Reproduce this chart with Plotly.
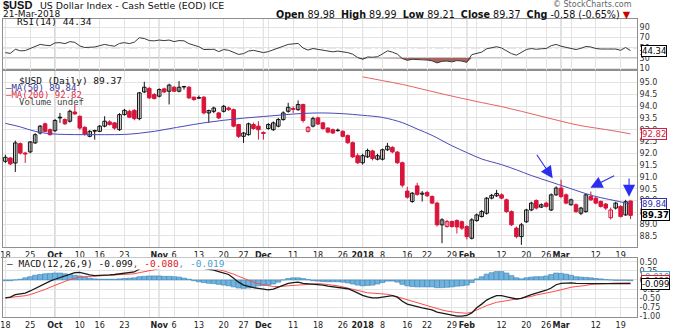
import numpy as np
import pandas as pd
import plotly.graph_objects as go

# ---------------- trading calendar ----------------
holidays = pd.to_datetime(["2017-10-09", "2017-11-23", "2017-12-25",
                           "2018-01-01", "2018-01-15", "2018-02-19"])
days = pd.bdate_range("2017-09-18", "2018-03-21")
days = days[~days.isin(holidays)]
idx = np.arange(len(days))


def pos(d):
    return int(days.get_loc(pd.Timestamp(d)))


# ---------------- daily OHLC ($USD) ----------------
opens = [91.66, 91.80, 91.59, 92.41, 92.01, 92.06, 92.44, 92.86, 93.25, 93.00,
         92.96, 93.53, 93.43, 93.36, 93.75, 93.57, 93.10, 92.72, 92.96, 92.93,
         93.15, 93.33, 93.29, 93.00, 93.64, 93.78, 93.82, 93.47, 94.60, 94.75,
         94.49, 94.42, 94.73, 94.63, 94.80, 94.63, 94.83, 94.80, 94.38, 94.36,
         94.38, 93.71, 93.78, 93.71, 93.78, 93.92, 93.85, 93.22, 92.72, 92.79,
         93.22, 93.15, 92.88, 93.05, 93.00, 93.15, 93.43, 93.78, 93.90, 93.85,
         94.07, 92.93, 93.15, 93.50, 93.29, 93.07, 93.00, 92.96, 92.93, 92.75,
         92.45, 91.90, 91.60, 91.85, 92.10, 91.75, 91.75, 92.15, 92.25, 92.05,
         91.60, 90.40, 89.96, 90.62, 90.27, 90.34, 90.17, 89.89, 88.97, 88.90,
         89.11, 89.15, 89.10, 88.90, 88.40, 89.15, 89.32, 89.46, 90.10, 90.20,
         90.24, 90.03, 89.53, 88.83, 88.47, 89.10, 89.60, 90.00, 89.72, 89.89,
         89.60, 90.24, 90.53, 90.24, 89.82, 89.82, 89.46, 89.53, 90.17, 90.10,
         89.96, 89.85, 89.27, 89.68, 89.75, 89.39, 89.98]
highs = [91.94, 91.84, 92.54, 92.46, 92.06, 92.52, 92.85, 93.20, 93.30, 93.05,
         93.45, 93.71, 93.48, 93.85, 94.07, 93.60, 93.15, 92.98, 93.00, 93.20,
         93.57, 93.40, 93.32, 93.70, 93.88, 93.85, 93.87, 94.60, 95.03, 94.82,
         94.55, 94.75, 94.78, 94.95, 94.85, 95.06, 94.86, 94.85, 94.40, 94.45,
         94.42, 93.85, 93.98, 93.75, 94.05, 93.98, 93.90, 93.25, 92.90, 93.30,
         93.30, 93.36, 92.93, 93.28, 93.35, 93.50, 93.78, 94.14, 93.99, 94.24,
         94.10, 93.15, 93.55, 93.55, 93.33, 93.10, 93.05, 93.05, 92.98, 92.80,
         92.50, 92.00, 91.98, 92.20, 92.15, 91.98, 92.20, 92.44, 92.30, 92.10,
         91.65, 90.58, 90.36, 90.75, 90.40, 90.40, 90.22, 89.95, 89.25, 89.18,
         89.15, 89.20, 89.15, 88.95, 89.25, 89.45, 89.60, 90.15, 90.28, 90.45,
         90.30, 90.08, 89.58, 88.90, 89.05, 89.65, 89.95, 90.05, 89.88, 89.95,
         90.30, 90.60, 90.88, 90.30, 90.08, 89.88, 89.73, 90.28, 90.38, 90.15,
         90.00, 89.90, 89.70, 89.95, 89.80, 90.03, 89.99]
lows = [91.59, 91.50, 91.21, 91.95, 91.59, 92.00, 92.40, 92.80, 92.90, 92.75,
        92.90, 93.29, 93.20, 93.30, 93.63, 93.00, 92.75, 92.68, 92.58, 92.90,
        93.10, 93.18, 93.00, 92.95, 93.60, 93.50, 93.40, 93.40, 94.55, 94.30,
        94.28, 94.37, 94.55, 94.07, 94.60, 94.58, 94.70, 94.30, 94.22, 94.30,
        93.65, 93.29, 93.70, 93.45, 93.73, 93.80, 93.10, 92.65, 92.44, 92.75,
        93.00, 92.58, 92.58, 93.00, 92.95, 93.10, 93.38, 93.72, 93.71, 93.80,
        93.30, 92.88, 93.10, 93.20, 93.00, 92.85, 92.82, 92.92, 92.68, 92.40,
        91.80, 91.55, 91.52, 91.80, 91.70, 91.70, 91.70, 92.10, 92.00, 91.55,
        90.55, 90.08, 89.90, 90.20, 89.96, 90.15, 89.85, 88.90, 88.19, 88.85,
        88.85, 88.60, 88.75, 88.35, 88.35, 89.10, 89.28, 89.40, 90.05, 90.15,
        90.05, 89.48, 88.92, 88.40, 88.12, 89.05, 89.55, 89.62, 89.68, 89.70,
        89.55, 90.20, 90.10, 89.84, 89.78, 89.48, 89.38, 89.48, 89.98, 89.84,
        89.70, 89.60, 89.20, 89.62, 89.28, 89.35, 89.21]
closes = [91.83, 91.55, 92.44, 92.01, 91.97, 92.48, 92.79, 93.15, 92.93, 92.79,
          93.39, 93.50, 93.25, 93.78, 93.67, 93.07, 92.82, 92.93, 92.94, 93.15,
          93.36, 93.22, 93.07, 93.64, 93.82, 93.53, 93.47, 94.56, 94.80, 94.35,
          94.32, 94.70, 94.60, 94.89, 94.63, 94.80, 94.81, 94.35, 94.28, 94.34,
          93.71, 93.81, 93.92, 93.50, 93.99, 93.85, 93.15, 92.72, 92.86, 93.25,
          93.05, 93.00, 92.84, 93.22, 93.29, 93.43, 93.71, 93.95, 93.86, 94.07,
          93.39, 93.10, 93.47, 93.24, 93.05, 92.90, 92.86, 92.98, 92.72, 92.45,
          91.85, 91.60, 91.90, 92.12, 91.78, 91.90, 92.15, 92.30, 92.06, 91.60,
          90.65, 90.14, 90.31, 90.26, 90.31, 90.20, 89.89, 88.97, 89.18, 89.11,
          88.90, 88.88, 88.83, 88.47, 89.18, 89.39, 89.53, 90.10, 90.22, 90.30,
          90.10, 89.53, 88.97, 88.47, 88.97, 89.60, 89.89, 89.68, 89.82, 89.75,
          90.24, 90.53, 90.17, 89.89, 90.03, 89.53, 89.68, 90.24, 90.03, 89.89,
          89.75, 89.68, 89.60, 89.89, 89.32, 89.95, 89.37]

# ---------------- moving averages ----------------
ma50_dates = ["2017-09-18", "2017-09-21", "2017-09-26", "2017-09-29", "2017-10-04",
              "2017-10-11", "2017-10-17", "2017-10-23", "2017-10-26", "2017-10-31",
              "2017-11-03", "2017-11-08", "2017-11-14", "2017-11-20", "2017-11-27",
              "2017-12-01", "2017-12-07", "2017-12-13", "2017-12-19", "2017-12-26",
              "2018-01-02", "2018-01-08", "2018-01-12", "2018-01-18", "2018-01-23",
              "2018-01-29", "2018-02-01", "2018-02-06", "2018-02-12", "2018-02-15",
              "2018-02-21", "2018-02-27", "2018-03-02", "2018-03-08", "2018-03-13",
              "2018-03-16", "2018-03-21"]
ma50_vals = [93.27, 93.12, 92.93, 92.83, 92.80, 92.79, 92.79, 92.80, 92.85, 92.93,
             93.04, 93.15, 93.29, 93.40, 93.49, 93.56, 93.63, 93.69, 93.71, 93.68,
             93.61, 93.52, 93.30, 93.03, 92.76, 92.32, 92.03, 91.76, 91.52, 91.30,
             91.06, 90.78, 90.57, 90.29, 90.12, 89.99, 89.84]
ma200_dates = ["2018-01-02", "2018-01-08", "2018-01-12", "2018-01-19", "2018-01-25",
               "2018-01-31", "2018-02-06", "2018-02-12", "2018-02-16", "2018-02-23",
               "2018-03-01", "2018-03-07", "2018-03-13", "2018-03-19", "2018-03-21"]
ma200_vals = [95.24, 95.08, 94.92, 94.72, 94.52, 94.33, 94.15, 93.98, 93.78, 93.57,
              93.36, 93.17, 93.04, 92.90, 92.82]

# ---------------- RSI(14) ----------------
rsi = [40.5, 39, 47, 44, 44.5, 48.5, 51.5, 56.5, 55, 54,
       59.5, 60, 58, 62, 60.5, 53.5, 50.5, 51.5, 51.5, 54,
       56.5, 54.5, 53, 58.5, 60, 58, 61, 69.5, 68, 64,
       63.5, 65, 64, 65, 62, 64, 63.5, 58, 55.5, 52,
       46.5, 46.5, 47, 42.5, 46.5, 45, 41.5, 37, 38.5, 43.5,
       45, 42, 40.5, 42.5, 46.5, 50, 53, 56.5, 57.5, 58.5,
       49.5, 45.5, 48.5, 47, 45, 43, 42, 43.5, 42.5, 40.5,
       37.5, 31, 27.5, 32, 31.5, 32.5, 38, 44, 41.5, 37.5,
       29, 25.5, 27.5, 27, 27.5, 26, 24.5, 20.5, 23.5, 24,
       22.5, 25, 24, 21.5, 36.5, 39.5, 41.5, 48, 49.5, 52,
       49.5, 44, 38.5, 35.5, 41.5, 46.5, 48.5, 47, 48, 48.5,
       54, 56.5, 53, 50.5, 49, 46.5, 49, 52.5, 51.5, 48.5,
       47.5, 47, 47.5, 47.5, 45, 50.5, 44.34]

# ---------------- MACD(12,26,9) ----------------
macd = [-0.49, -0.47, -0.40, -0.38, -0.36, -0.30, -0.23, -0.16, -0.09, -0.03,
        0.02, 0.07, 0.11, 0.17, 0.20, 0.21, 0.17, 0.14, 0.12, 0.12,
        0.14, 0.14, 0.15, 0.17, 0.20, 0.21, 0.22, 0.30, 0.38, 0.41,
        0.42, 0.44, 0.45, 0.46, 0.46, 0.47, 0.46, 0.44, 0.42, 0.39,
        0.32, 0.30, 0.27, 0.23, 0.20, 0.15, 0.05, -0.06, -0.14, -0.18,
        -0.21, -0.23, -0.26, -0.27, -0.25, -0.20, -0.14, -0.09, -0.07, -0.06,
        -0.09, -0.10, -0.10, -0.11, -0.14, -0.17, -0.19, -0.20, -0.21, -0.24,
        -0.29, -0.36, -0.42, -0.46, -0.49, -0.49, -0.47, -0.43, -0.43, -0.47,
        -0.58, -0.66, -0.70, -0.74, -0.76, -0.79, -0.82, -0.88, -0.91, -0.95,
        -0.97, -0.99, -0.99, -0.97, -0.90, -0.76, -0.66, -0.55, -0.48, -0.43,
        -0.43, -0.46, -0.49, -0.52, -0.50, -0.44, -0.40, -0.36, -0.33, -0.28,
        -0.22, -0.13, -0.095, -0.08, -0.08, -0.09, -0.095, -0.09, -0.09, -0.095,
        -0.095, -0.10, -0.10, -0.095, -0.10, -0.09, -0.099]
signal = [-0.49, -0.48, -0.47, -0.45, -0.43, -0.40, -0.36, -0.31, -0.26, -0.20,
          -0.14, -0.09, -0.04, 0.01, 0.05, 0.08, 0.09, 0.10, 0.11, 0.11,
          0.12, 0.12, 0.13, 0.14, 0.15, 0.16, 0.17, 0.20, 0.23, 0.26,
          0.29, 0.31, 0.33, 0.35, 0.37, 0.38, 0.39, 0.39, 0.39, 0.38,
          0.36, 0.34, 0.31, 0.28, 0.25, 0.21, 0.16, 0.10, 0.04, -0.01,
          -0.06, -0.10, -0.13, -0.16, -0.18, -0.18, -0.17, -0.15, -0.13, -0.12,
          -0.11, -0.11, -0.10, -0.10, -0.11, -0.12, -0.14, -0.16, -0.19, -0.22,
          -0.27, -0.30, -0.33, -0.35, -0.36, -0.37, -0.37, -0.39, -0.42, -0.46,
          -0.51, -0.56, -0.60, -0.64, -0.67, -0.71, -0.74, -0.79, -0.82, -0.85,
          -0.88, -0.89, -0.90, -0.91, -0.88, -0.83, -0.76, -0.70, -0.65, -0.61,
          -0.59, -0.57, -0.55, -0.53, -0.51, -0.48, -0.45, -0.41, -0.39, -0.36,
          -0.33, -0.30, -0.26, -0.23, -0.20, -0.18, -0.17, -0.15, -0.12, -0.11,
          -0.10, -0.095, -0.09, -0.085, -0.083, -0.08, -0.080]
hist = [-0.02, -0.02, 0.0, 0.02, 0.06, 0.09, 0.13, 0.15, 0.17, 0.18,
        0.19, 0.19, 0.17, 0.15, 0.13, 0.11, 0.08, 0.05, 0.03, 0.02,
        0.02, 0.02, 0.02, 0.03, 0.04, 0.05, 0.06, 0.09, 0.10, 0.11,
        0.11, 0.11, 0.10, 0.10, 0.09, 0.08, 0.05, 0.02, -0.02, -0.05,
        -0.07, -0.09, -0.10, -0.12, -0.14, -0.16, -0.19, -0.22, -0.23, -0.22,
        -0.20, -0.16, -0.15, -0.14, -0.11, -0.06, 0.00, 0.04, 0.06, 0.06,
        0.04, 0.01, -0.02, -0.03, -0.04, -0.05, -0.05, -0.05, -0.06, -0.08,
        -0.11, -0.14, -0.16, -0.15, -0.14, -0.11, -0.07, -0.03, -0.03, -0.06,
        -0.12, -0.16, -0.18, -0.19, -0.19, -0.19, -0.19, -0.21, -0.21, -0.20,
        -0.19, -0.17, -0.16, -0.14, -0.07, 0.03, 0.09, 0.16, 0.20, 0.23,
        0.23, 0.19, 0.12, 0.06, 0.03, 0.06, 0.08, 0.09, 0.09, 0.11,
        0.15, 0.19, 0.18, 0.16, 0.13, 0.09, 0.08, 0.07, 0.06, 0.04,
        0.03, 0.01, 0.00, -0.01, -0.01, -0.01, -0.019]

# ---------------- date axis labels ----------------
tick_dates = ["2017-09-18", "2017-09-25", "2017-10-02", "2017-10-10", "2017-10-16",
              "2017-10-23", "2017-11-01", "2017-11-06", "2017-11-13", "2017-11-20",
              "2017-11-27", "2017-12-01", "2017-12-11", "2017-12-18", "2017-12-26",
              "2018-01-02", "2018-01-08", "2018-01-16", "2018-01-22", "2018-01-29",
              "2018-02-01", "2018-02-12", "2018-02-20", "2018-02-26", "2018-03-01",
              "2018-03-12", "2018-03-19"]
tick_labels = ["18", "25", "<b>Oct</b>", "10", "16", "23", "<b>Nov</b>", "6", "13", "20",
               "27", "<b>Dec</b>", "11", "18", "26", "<b>2018</b>", "8", "16", "22", "29",
               "<b>Feb</b>", "12", "20", "26", "<b>Mar</b>", "12", "19"]

# annotation arrows: (tip position, tip price, tail position, tail price)
arrow_tips = [(110.3, 90.94, 106.9, 92.00),
              (117.9, 90.54, 123.0, 91.08),
              (125.7, 90.16, 125.7, 91.00)]

# ---------------- derived positions ----------------
tick_pos = [pos(d) for d in tick_dates]
week_starts = [i for i in idx if i == 0 or days[i].weekday() < days[i - 1].weekday()
               or (days[i] - days[i - 1]).days > 3]
month_starts = [i for i in idx[1:] if days[i].month != days[i - 1].month]

RED = "#d9143a"
BLACK = "#111111"
W, H = 674, 329
X0, X1 = 3 / W, 637 / W


def py(y):
    return 1 - y / H


colors, fills = [], []
for i in idx:
    up_day = i == 0 or closes[i] >= closes[i - 1]
    col = BLACK if up_day else RED
    colors.append(col)
    fills.append("white" if closes[i] > opens[i] else col)

fig = go.Figure()

# wicks
for col in (BLACK, RED):
    wx, wy = [], []
    for i in idx:
        if colors[i] == col:
            wx += [i, i, None]
            wy += [lows[i], highs[i], None]
    fig.add_trace(go.Scatter(x=wx, y=wy, mode="lines", line=dict(color=col, width=1),
                             xaxis="x", yaxis="y", hoverinfo="skip"))

# bodies
base = [min(o, c) for o, c in zip(opens, closes)]
height = [max(abs(c - o), 0.015) for o, c in zip(opens, closes)]
fig.add_trace(go.Bar(x=idx, y=height, base=base, width=0.72,
                     marker=dict(color=fills, line=dict(color=colors, width=1)),
                     xaxis="x", yaxis="y"))

fig.add_trace(go.Scatter(x=[pos(d) for d in ma50_dates], y=ma50_vals, mode="lines",
                         line=dict(color="#4a4ab8", width=1, shape="spline"),
                         xaxis="x", yaxis="y"))
fig.add_trace(go.Scatter(x=[pos(d) for d in ma200_dates], y=ma200_vals, mode="lines",
                         line=dict(color="#e46464", width=1, shape="spline"),
                         xaxis="x", yaxis="y"))

# RSI with oversold shading
fig.add_trace(go.Scatter(x=idx, y=[30] * len(idx), mode="lines",
                         line=dict(width=0, color="rgba(0,0,0,0)"),
                         xaxis="x2", yaxis="y2", hoverinfo="skip"))
fig.add_trace(go.Scatter(x=idx, y=np.minimum(rsi, 30), mode="lines", fill="tonexty",
                         fillcolor="#a9625e", line=dict(width=0, color="rgba(0,0,0,0)"),
                         xaxis="x2", yaxis="y2", hoverinfo="skip"))
fig.add_trace(go.Scatter(x=idx, y=rsi, mode="lines", line=dict(color="#3a3a3a", width=1),
                         xaxis="x2", yaxis="y2"))

# MACD
fig.add_trace(go.Bar(x=idx, y=hist, width=1.0,
                     marker=dict(color="#72b2dc", line=dict(color="#3b86ba", width=0.6)),
                     xaxis="x3", yaxis="y3"))
fig.add_trace(go.Scatter(x=idx, y=signal, mode="lines", line=dict(color="#ff4a4a", width=1),
                         xaxis="x3", yaxis="y3"))
fig.add_trace(go.Scatter(x=idx, y=macd, mode="lines", line=dict(color="#1a1a1a", width=1.3),
                         xaxis="x3", yaxis="y3"))

GRID = "#e3e3e3"
LINE = "#8f8f8f"
xcommon = dict(range=[-0.48, 127.3], domain=[X0, X1], showline=True, mirror=True,
               linecolor=LINE, linewidth=1, zeroline=False, showgrid=True, gridcolor=GRID,
               tickvals=tick_pos, ticktext=tick_labels, ticks="", tickangle=0,
               automargin=False,
               tickfont=dict(family="DejaVu Sans", size=8, color="#222"),
               minor=dict(tickvals=week_starts, showgrid=True, gridcolor=GRID))
ycommon = dict(side="right", showline=True, mirror=True, linecolor=LINE, linewidth=1,
               zeroline=False, showgrid=True, gridcolor=GRID, ticks="", automargin=False,
               tickfont=dict(family="DejaVu Sans", size=8, color="#333"))

price_ticks = [88.5 + 0.5 * k for k in range(14)]
macd_ticks = [0.5, 0.25, 0.0, -0.25, -0.5, -0.75, -1.0]

fig.update_layout(
    width=W, height=H, margin=dict(l=0, r=0, t=0, b=0, autoexpand=False),
    paper_bgcolor="white", plot_bgcolor="white", showlegend=False, barmode="overlay",
    font=dict(family="DejaVu Sans", size=9, color="#111"),
    xaxis=dict(xcommon, anchor="y"),
    yaxis=dict(ycommon, anchor="x", domain=[py(247), py(70)], range=[88.03, 95.53],
               tickvals=price_ticks, ticktext=[f"{v:.1f}" for v in price_ticks]),
    xaxis2=dict(xcommon, anchor="y2", matches="x", showticklabels=False),
    yaxis2=dict(ycommon, anchor="x2", domain=[py(70), py(19)], range=[6.6, 106.1],
                tickvals=[10, 30, 50, 70, 90]),
    xaxis3=dict(xcommon, anchor="y3", matches="x"),
    yaxis3=dict(ycommon, anchor="x3", domain=[py(317), py(258)], range=[-1.012, 0.601],
                tickvals=macd_ticks, ticktext=[f"{v:.2f}" for v in macd_ticks]),
)

# month separators
for m in month_starts:
    for xr, yr in (("x", "y domain"), ("x2", "y2 domain"), ("x3", "y3 domain")):
        fig.add_shape(type="line", x0=m, x1=m, xref=xr, y0=0, y1=1, yref=yr,
                      line=dict(color="#b4b4b4", width=1), layer="below")

# RSI reference levels
for lvl, dash, col in ((70, "solid", "#8a8a8a"), (30, "solid", "#8a8a8a"), (50, "dashdot", "#a0a0a0")):
    fig.add_shape(type="line", x0=0, x1=1, xref="x2 domain", y0=lvl, y1=lvl, yref="y2",
                  line=dict(color=col, width=1, dash=dash), layer="below")

ann = []


def text(x, y, s, size=9, family="DejaVu Sans", color="#111", anchor="left", bg=None):
    a = dict(x=x / W, y=py(y), xref="paper", yref="paper", text=s, showarrow=False,
             xanchor=anchor, yanchor="middle",
             font=dict(family=family, size=size, color=color))
    if bg:
        a.update(bgcolor=bg, borderpad=0)
    ann.append(a)


# header
text(1, 5, "<b>$USD</b>", size=11, family="Liberation Sans")
text(38, 5.5, "US Dollar Index - Cash Settle (EOD) ICE", size=9.4)
text(1, 14.5, "21-Mar-2018", size=9)
text(633, 14.5, "<b>Open</b> 89.98  <b>High</b> 89.99  <b>Low</b> 89.21  <b>Close</b> 89.37  "
     "<b>Chg</b> -0.58 (-0.65%) <span style='color:#d00000'>▼</span>", size=9.6, anchor="right")
text(634, 4, "© StockCharts.com", size=8, color="#666", anchor="right")

# panel legends
MONO = "DejaVu Sans Mono"
text(15, 21.8, "RSI(14) 44.34", size=9.5, family=MONO)
text(17, 80.7, "$USD (Daily) 89.37", size=9.5, family=MONO)
text(4, 88.3, "<span style='color:#3a3a9a'>—MA(50) 89.84</span>", size=9, family=MONO)
text(4, 95, "<span style='color:#e0304a'>—MA(200) 92.82</span>", size=9, family=MONO)
text(17, 101.7, "Volume undef", size=9, family=MONO, color="#444")
text(6, 263.3, "— MACD(12,26,9) -0.099<span style='color:#e02020'>, -0.080</span>"
     "<span style='color:#4aa0d0'>, -0.019</span>", size=9.5, family=MONO, bg="white")


# value tags on the right scale
def tag(val, yref, label, col, bold=False, yshift=0):
    ann.append(dict(x=1, xref=yref.replace("y", "x") + " domain",
                    y=val, yref=yref, text=f"<b>{label}</b>" if bold else label,
                    showarrow=False, xanchor="left", yanchor="middle", xshift=4, yshift=yshift,
                    bgcolor="white", bordercolor=col, borderwidth=1, borderpad=0,
                    font=dict(family="DejaVu Sans", size=8.5, color=col)))


tag(rsi[-1], "y2", f"{rsi[-1]:.2f}", "#000")
tag(ma200_vals[-1], "y", f"{ma200_vals[-1]:.2f}", "#d02040")
tag(ma50_vals[-1], "y", f"{ma50_vals[-1]:.2f}", "#3030b0")
tag(closes[-1], "y", f"{closes[-1]:.2f}", "#000", bold=True)
tag(hist[-1], "y3", f"{hist[-1]:.3f}", "#4aa0d0", yshift=4)
tag(signal[-1], "y3", f"{signal[-1]:.3f}", "#d02020", yshift=2)
tag(macd[-1], "y3", f"{macd[-1]:.3f}", "#000")

# blue annotation arrows on the price panel
for tx, ty, sx, sy in arrow_tips:
    ann.append(dict(x=tx, y=ty, xref="x", yref="y", ax=sx, ay=sy, axref="x", ayref="y",
                    text="", showarrow=True, arrowhead=2, arrowsize=2.2, arrowwidth=1.1,
                    arrowcolor="#2d2df0", standoff=0))

fig.update_layout(annotations=ann)
fig.write_html("out.html")
